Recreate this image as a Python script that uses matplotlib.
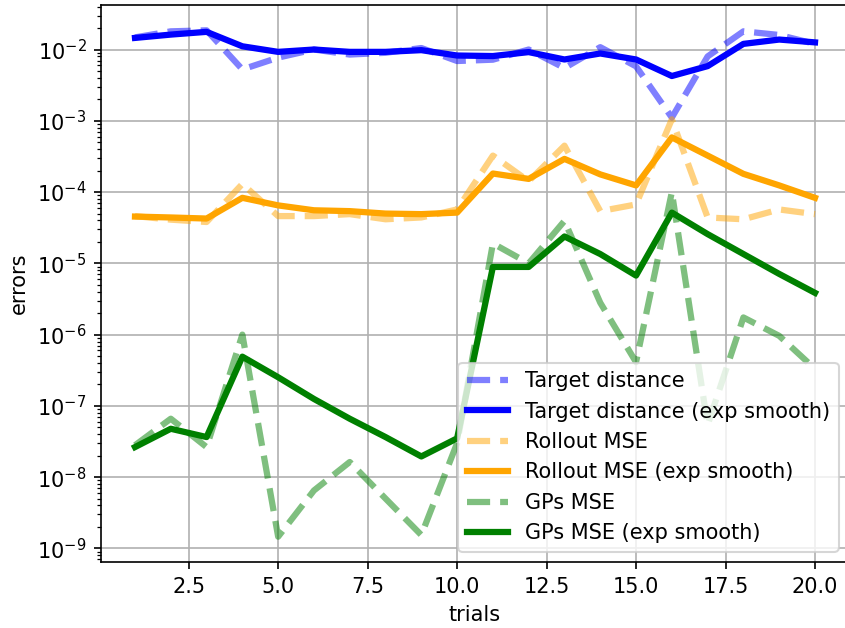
import matplotlib
matplotlib.use('Agg')
import matplotlib.pyplot as plt
import numpy as np

trials = np.arange(1, 21)

# values
target_dist = [0.0148, 0.018, 0.0186, 0.00526, 0.0077, 0.010, 0.0085, 0.009, 0.0105, 0.0069,
               0.0072, 0.0100, 0.0055, 0.0108, 0.0058, 0.00111, 0.008, 0.018, 0.016, 0.012]
target_dist_smooth = [0.01455, 0.0162, 0.0177, 0.0111, 0.00927, 0.0100, 0.00927, 0.00927, 0.0098, 0.00824,
                      0.0081, 0.0092, 0.00725, 0.0088, 0.00725, 0.00425, 0.00585, 0.012, 0.0138, 0.0126]
rollout_mse = [4.6e-5, 4.1e-5, 3.8e-5, 1.3e-4, 4.6e-5, 4.6e-5, 4.9e-5, 4.15e-5, 4.4e-5, 5.7e-5,
               3.25e-4, 1.42e-4, 4.48e-4, 5.4e-5, 6.7e-5, 1.05e-3, 4.4e-5, 4.15e-5, 5.7e-5, 4.9e-5]
rollout_mse_smooth = [4.53e-5, 4.4e-5, 4.25e-5, 8.3e-5, 6.5e-5, 5.55e-5, 5.4e-5, 4.99e-5, 4.9e-5, 5.15e-5,
                      1.82e-4, 1.53e-4, 2.92e-4, 1.77e-4, 1.24e-4, 5.85e-4, 3.25e-4, 1.8e-4, 1.24e-4, 8.3e-5]
gps_mse = [2.8e-8, 6.6e-8, 2.64e-8, 1.0e-6, 1.46e-9, 6.5e-9, 1.63e-8, 5.0e-9, 1.54e-9, 3.0e-8,
           1.9e-5, 1.0e-5, 3.94e-5, 2.8e-6, 4.1e-7, 1.0e-4, 5.4e-8, 1.74e-6, 9.6e-7, 3.3e-7]
gps_mse_smooth = [2.64e-8, 4.77e-8, 3.65e-8, 4.9e-7, 2.52e-7, 1.25e-7, 6.6e-8, 3.65e-8, 1.95e-8, 3.5e-8,
                  8.9e-6, 8.9e-6, 2.38e-5, 1.35e-5, 6.73e-6, 5.15e-5, 2.57e-5, 1.35e-5, 7.1e-6, 3.85e-6]

W, H, DPI = 845, 628, 150
fig = plt.figure(figsize=(W / DPI, H / DPI), dpi=DPI)
# right spine sits just past the image edge in the reference
ax = fig.add_axes([101 / W, 1 - 562 / H, 748 / W, 557 / H])

dash_kw = dict(ls='--', alpha=0.5, lw=3)
ax.plot(trials, target_dist, color='blue', label='Target distance', **dash_kw)
ax.plot(trials, target_dist_smooth, '-', color='blue', lw=3, label='Target distance (exp smooth)')
ax.plot(trials, rollout_mse, color='orange', label='Rollout MSE', **dash_kw)
ax.plot(trials, rollout_mse_smooth, '-', color='orange', lw=3, label='Rollout MSE (exp smooth)')
ax.plot(trials, gps_mse, color='green', label='GPs MSE', **dash_kw)
ax.plot(trials, gps_mse_smooth, '-', color='green', lw=3, label='GPs MSE (exp smooth)')

ax.set_yscale('log')
ax.grid(True, which='major')
ax.set_xlabel('trials')
ax.set_ylabel('errors')
ax.legend(loc='lower right')

fig.savefig('out.png', dpi=DPI)
